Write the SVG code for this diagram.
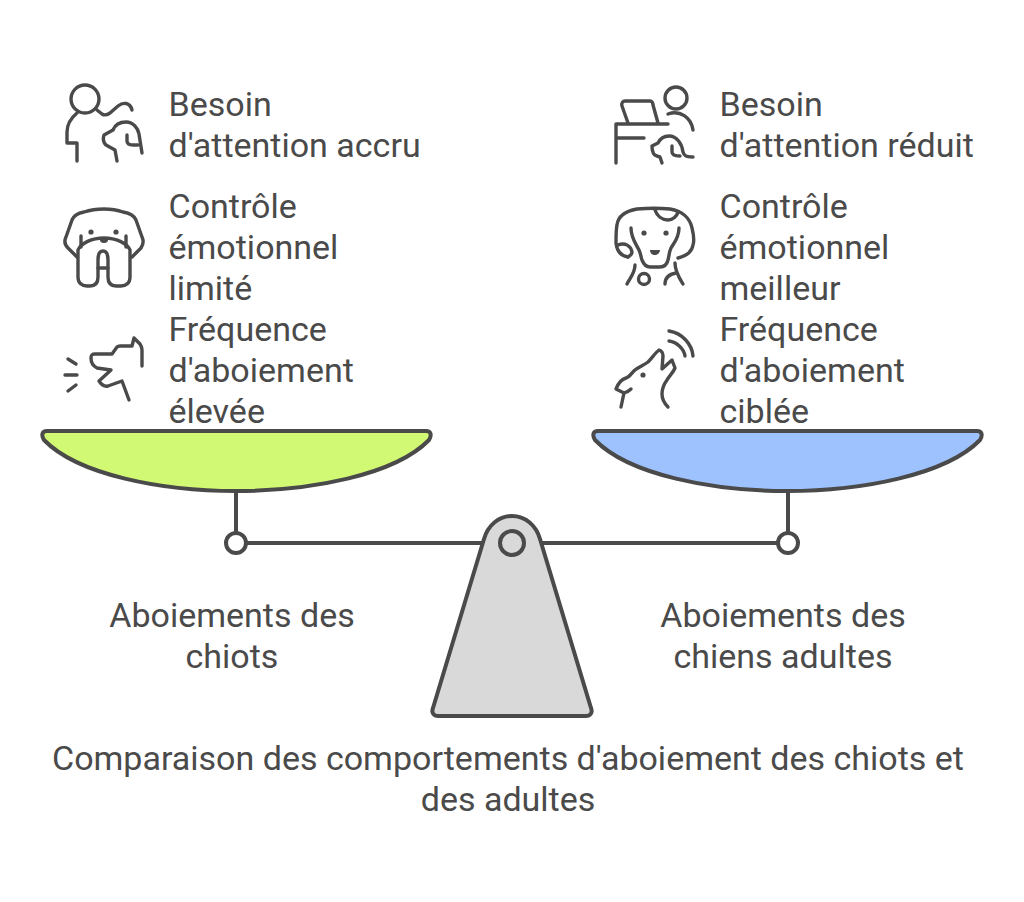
<svg xmlns="http://www.w3.org/2000/svg" width="1024" height="902" viewBox="0 0 1024 902">
<style>
.t{font-family:Roboto,"Liberation Sans",sans-serif;font-size:34px;fill:#4a4a4a}
.m{text-anchor:middle}
.s{fill:none;stroke:#4a4a4a;stroke-width:4px;stroke-linecap:round;stroke-linejoin:round}
.i{fill:none;stroke:#4a4a4a;stroke-width:3.4px;stroke-linecap:round;stroke-linejoin:round}
.d{fill:#4a4a4a}
</style>
<rect width="1024" height="902" fill="#fff"/>
<g id="connectors">
<path class="s" d="M236 491V533M246 543H486M538 543H778M788 491V533"/>
</g>
<g id="pan-left"><path class="s" style="fill:#d1f974" d="M47 431H426C431 431 432 435 429 440C395 475 310 491 236 491C162 491 78 475 44 440C41 435 42 431 47 431Z"/></g>
<g id="pan-right"><path class="s" style="fill:#9dc2fd" d="M598 431H977C982 431 983 435 980 440C946 475 861 491 787 491C713 491 629 475 595 440C592 435 593 431 598 431Z"/></g>
<g id="joint-left"><circle class="s" style="fill:#fff" cx="236" cy="543" r="10"/></g>
<g id="joint-right"><circle class="s" style="fill:#fff" cx="788" cy="543" r="10"/></g>
<g id="fulcrum"><path class="s" style="fill:#d9d9d9" d="M484 539C488 525 499 516 512 516C525 516 536 525 540 539L591 708C593 713 590 716 586 716H438C434 716 431 713 433 708Z"/><circle class="s" style="fill:none" cx="512" cy="543" r="12"/></g>

<g id="icon-attention-high">
<circle class="i" cx="85" cy="99" r="14"/>
<path class="i" d="M77 113C71 118 67 125 67 132V143H77V161"/>
<path class="i" d="M97 110L102 114C105 116 107 115 110 113L118 106C123 102 130 102 132 110"/>
<path class="i" d="M117 161L115 150L106 145C103 142 103 138 104 135L113 130C115 125 120 122 126 122C133 122 138 128 139 134L142 153"/>
<path class="i" d="M127 135V141C127 144 130 145 133 145L138 145"/>
</g>
<g id="icon-emotion-low">
<path class="i" d="M77 257L68 248C65 245 64 241 66 237L72 220C74 215 79 213 84 212C96 208 112 208 123 212C129 213 134 215 136 220L142 237C144 241 143 245 141 248L132 257"/>
<path class="i" d="M81 236V247M126 236V247"/>
<path class="i" d="M78 250V277C78 283 82 286 87 286H90C95 286 98 283 98 277V260C98 254 100 251 103 251C106 251 108 254 108 260V277C108 283 111 286 116 286H121C126 286 130 283 130 277V250C127 243 116 238 104 238C92 238 81 243 78 250Z"/>
<path class="i" d="M98 268H108"/>
<circle class="d" cx="91" cy="232" r="2.6"/><circle class="d" cx="116" cy="232" r="2.6"/>
<ellipse class="d" cx="104" cy="240" rx="4" ry="3"/>
</g>
<g id="icon-bark-high">
<path class="i" d="M68 359L76 364M65 375H77M68 391L76 385"/>
<path class="i" d="M129 400L122 381L108 386C104 387 101 384 99 381L111 370L97 368C93 366 91 362 91 358C91 355 92 354 95 354H112L117 347C118 346 119 346 120 346H132L134 338L140 344C141 346 142 347 142 350V366"/>
</g>
<g id="icon-attention-low">
<circle class="i" cx="676" cy="98" r="11"/>
<path class="i" d="M668 114C680 110 691 117 693 130"/>
<path class="i" d="M628 123L622 106C621 103 623 101 625 101H650C652 101 653 103 653 105L658 123"/>
<path class="i" d="M668 124H616V163M616 138H644"/>
<path class="i" d="M662 163L660 157C656 156 653 155 653 152C652 150 652 148 652 146L658 143C660 139 664 136 669 136C677 136 682 144 683 152C684 155 685 157 693 157"/>
<path class="i" d="M672 146V152C672 155 675 156 680 156"/>
</g>
<g id="icon-emotion-better">
<path class="i" d="M628 257C621 256 617 252 616 243C616 235 616 229 617 225C618 216 626 211 637 209C648 208 660 208 670 209C682 211 690 218 692 228C694 236 694 242 693 245C692 252 686 256 678 258"/>
<path class="i" d="M655 210C657 216 662 220 668 220C673 220 677 216 678 212"/>
<path class="i" d="M631 228C631 238 636 244 639 250C641 254 641 258 642 260C644 265 646 267 650 267H660C665 267 667 264 668 260C669 257 669 252 671 248C674 243 679 238 679 228"/>
<path class="i" d="M618 245C625 242 631 246 632 252C632 254 630 256 628 257"/>
<path class="i" d="M635 265C635 273 630 278 627 284M675 263C675 272 680 279 683 284"/>
<circle class="i" cx="644" cy="279" r="5.5"/>
<path class="i" d="M665 284C665 277 670 274 676 273"/>
<circle class="d" cx="644" cy="233" r="2.6"/><circle class="d" cx="666" cy="233" r="2.6"/>
<path class="d" d="M650 250H660C660 253 657 255 655 255C652 255 650 253 650 250Z"/>
</g>
<g id="icon-bark-targeted">
<path class="i" d="M669 331C682 333 692 344 693 356M669 341C677 342 684 349 685 356"/>
<path class="i" d="M621 407L624 393L616 389C618 384 622 379 626 378C630 377 632 372 635 370C639 367 644 365 648 362C652 358 655 353 659 350C662 351 663 353 663 356L662 369L672 360L675 368C673 373 669 376 667 380C664 384 662 389 662 394C662 399 665 404 668 407"/>
<path class="i" d="M624 393C627 392 629 391 631 389"/>
<circle class="d" cx="643" cy="375" r="2.6"/>
</g>

<g id="label-left-1"><text class="t" x="168.5" y="115.6">Besoin</text><text class="t" x="168.5" y="156.6">d'attention accru</text></g>
<g id="label-left-2"><text class="t" x="168.5" y="217.6">Contrôle</text><text class="t" x="168.5" y="258.6">émotionnel</text><text class="t" x="168.5" y="299.6">limité</text></g>
<g id="label-left-3"><text class="t" x="168.5" y="340.6">Fréquence</text><text class="t" x="168.5" y="381.6">d'aboiement</text><text class="t" x="168.5" y="422.6">élevée</text></g>
<g id="label-right-1"><text class="t" x="719.5" y="115.6">Besoin</text><text class="t" x="719.5" y="156.6">d'attention réduit</text></g>
<g id="label-right-2"><text class="t" x="719.5" y="217.6">Contrôle</text><text class="t" x="719.5" y="258.6">émotionnel</text><text class="t" x="719.5" y="299.6">meilleur</text></g>
<g id="label-right-3"><text class="t" x="719.5" y="340.6">Fréquence</text><text class="t" x="719.5" y="381.6">d'aboiement</text><text class="t" x="719.5" y="422.6">ciblée</text></g>
<g id="title-left"><text class="t m" x="232" y="626.6">Aboiements des</text><text class="t m" x="232" y="667.6">chiots</text></g>
<g id="title-right"><text class="t m" x="783" y="626.6">Aboiements des</text><text class="t m" x="783" y="667.6">chiens adultes</text></g>
<g id="caption"><text class="t m" x="508" y="769.6">Comparaison des comportements d'aboiement des chiots et</text><text class="t m" x="508" y="810.6">des adultes</text></g>
</svg>
